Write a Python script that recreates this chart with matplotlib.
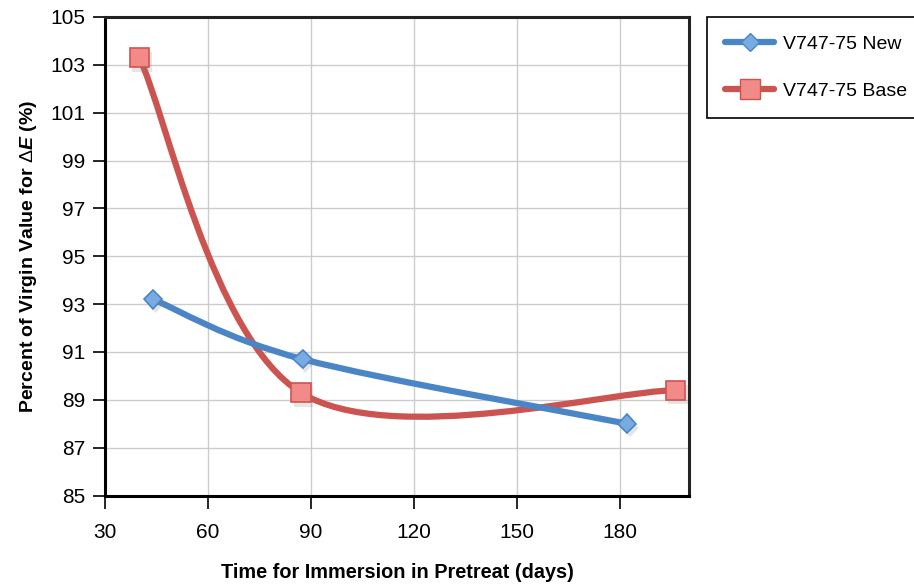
import matplotlib.pyplot as plt
from matplotlib.path import Path
from matplotlib.patches import PathPatch
from matplotlib.lines import Line2D
import matplotlib.patheffects as pe

plt.rcParams['font.family'] = ['Liberation Sans', 'DejaVu Sans']
plt.rcParams['mathtext.fontset'] = 'custom'
plt.rcParams['mathtext.rm'] = 'Liberation Sans'
plt.rcParams['mathtext.it'] = 'Liberation Sans:bold:italic'

# data
new_days = [44, 87.5, 182]
new_pct = [93.2, 90.7, 88.0]
base_days = [40, 87, 196]
base_pct = [103.3, 89.3, 89.4]

xticks = [30, 60, 90, 120, 150, 180]
yticks = [85, 87, 89, 91, 93, 95, 97, 99, 101, 103, 105]

blue = "#4a86c6"
blue_fill = "#78abe2"
red = "#cc5450"
red_fill = "#f28b88"


def smooth_path(xs, ys):
    # excel style smoothed line: bezier segments, catmull-rom control points
    pts = list(zip(xs, ys))
    n = len(pts)
    verts = [pts[0]]
    codes = [Path.MOVETO]
    for i in range(n - 1):
        p0 = pts[max(i - 1, 0)]
        p1 = pts[i]
        p2 = pts[i + 1]
        p3 = pts[min(i + 2, n - 1)]
        c1 = (p1[0] + (p2[0] - p0[0]) / 6, p1[1] + (p2[1] - p0[1]) / 6)
        c2 = (p2[0] - (p3[0] - p1[0]) / 6, p2[1] - (p3[1] - p1[1]) / 6)
        verts += [c1, c2, p2]
        codes += [Path.CURVE4] * 3
    return Path(verts, codes)


fig = plt.figure(figsize=(9.14, 5.88), dpi=100)
ax = fig.add_axes([0.1149, 0.1573, 0.6389, 0.8138])

ax.add_patch(PathPatch(smooth_path(base_days, base_pct), fill=False,
                       edgecolor=red, lw=4.5, capstyle="round", zorder=3))
ax.add_patch(PathPatch(smooth_path(new_days, new_pct), fill=False,
                       edgecolor=blue, lw=4.5, capstyle="round", zorder=3))

shadow = [pe.SimplePatchShadow(offset=(2, -3), alpha=0.2, shadow_rgbFace="gray"),
          pe.Normal()]
ax.plot(new_days, new_pct, ls="none", marker="D", ms=9.5, mfc=blue_fill,
        mec=blue, mew=1.2, zorder=4, path_effects=shadow)
ax.plot(base_days, base_pct, ls="none", marker="s", ms=14, mfc=red_fill,
        mec=red, mew=1.2, zorder=5, path_effects=shadow)

ax.set_xlim(30, 200)
ax.set_ylim(85, 105)
ax.set_xticks(xticks)
ax.set_yticks(yticks)
ax.tick_params(direction="out", length=9, width=1.2, labelsize=15, pad=5)
ax.tick_params(axis="x", pad=11)
ax.grid(True, color="#cccccc", lw=1)
ax.set_axisbelow(True)
for s in ["left", "bottom"]:
    ax.spines[s].set_linewidth(2.2)
    ax.spines[s].set_color("black")
for s in ["top", "right"]:
    ax.spines[s].set_linewidth(2.2)
    ax.spines[s].set_color("#222222")

ax.set_xlabel("Time for Immersion in Pretreat (days)", fontsize=14.3,
              fontweight="bold", labelpad=15)
ax.set_ylabel(r"Percent of Virgin Value for $\Delta\mathit{E}$ (%)", fontsize=14,
              fontweight="bold", labelpad=8)

handles = [
    Line2D([], [], color=blue, lw=4.5, solid_capstyle="round", marker="D",
           ms=9.5, mfc=blue_fill, mec=blue),
    Line2D([], [], color=red, lw=4.5, solid_capstyle="round", marker="s",
           ms=14, mfc=red_fill, mec=red),
]
leg = fig.legend(handles, ["V747-75 New", "V747-75 Base"], loc="upper left",
                 bbox_to_anchor=(0.7735, 0.971), borderaxespad=0, fontsize=14,
                 handlelength=2.5, handletextpad=0.45, labelspacing=1.5,
                 borderpad=0.95, fancybox=False, framealpha=1)
leg.get_frame().set_edgecolor("black")
leg.get_frame().set_linewidth(1.2)

fig.savefig("out.png", dpi=100)
